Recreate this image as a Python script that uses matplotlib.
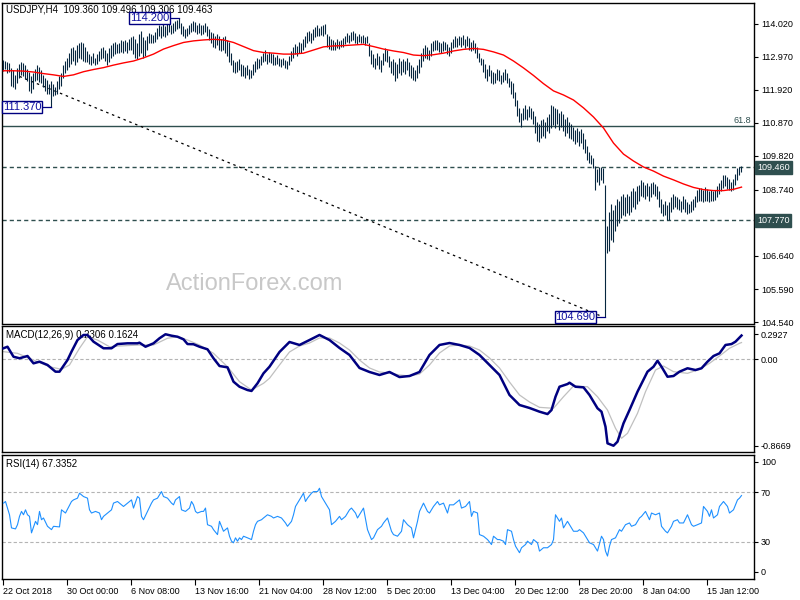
import matplotlib
matplotlib.use("Agg")
import matplotlib.pyplot as plt
import matplotlib.transforms as mtransforms

plt.rcParams["font.family"] = ["Liberation Sans", "DejaVu Sans"]

# ---------------- data ----------------
chart_title = "USDJPY,H4  109.360 109.496 109.306 109.463"
macd_title = "MACD(12,26,9) 0.2306 0.1624"
rsi_title = "RSI(14) 67.3352"
watermark = "ActionForex.com"

highs = [
    112.88, 112.85, 112.80, 112.78, 112.62, 112.55, 112.40, 112.62, 112.75, 112.82,
    112.78, 112.70, 112.58, 112.50, 112.35, 112.45, 112.60, 112.70, 112.65, 112.55,
    112.40, 112.30, 112.25, 112.10, 112.22, 112.10, 112.00, 112.20, 112.35, 112.45,
    112.70, 112.85, 112.95, 113.10, 113.25, 113.30, 113.20, 113.35, 113.40, 113.45,
    113.42, 113.30, 113.15, 113.05, 113.00, 113.08, 112.95, 113.05, 113.15, 113.25,
    113.30, 113.20, 113.10, 113.25, 113.35, 113.40, 113.45, 113.38, 113.42, 113.50,
    113.48, 113.52, 113.45, 113.55, 113.60, 113.65, 113.55, 113.40, 113.70, 113.78,
    113.60, 113.50, 113.65, 113.72, 113.70, 113.68, 113.75, 113.90, 113.98, 113.95,
    114.05, 113.95, 114.02, 114.08, 113.98, 114.05, 114.10, 114.15, 114.20, 114.05,
    113.95, 113.85, 113.90, 113.98, 114.05, 114.12, 114.08, 114.00, 114.05, 113.98,
    114.00, 114.05, 113.95, 113.85, 113.75, 113.72, 113.65, 113.70, 113.62, 113.55,
    113.60, 113.65, 113.50, 113.45, 113.10, 112.88, 112.80, 112.85, 112.90, 112.75,
    112.70, 112.65, 112.72, 112.60, 112.55, 112.75, 112.85, 112.95, 112.90, 113.00,
    113.10, 113.18, 113.05, 113.12, 113.08, 113.05, 112.98, 113.02, 112.95, 112.90,
    112.95, 112.88, 112.85, 113.00, 113.15, 113.30, 113.38, 113.32, 113.45, 113.40,
    113.55, 113.62, 113.75, 113.80, 113.72, 113.85, 113.92, 113.98, 113.90, 113.95,
    113.98, 114.03, 113.70, 113.62, 113.55, 113.50, 113.45, 113.55, 113.48, 113.52,
    113.58, 113.65, 113.72, 113.68, 113.75, 113.80, 113.72, 113.65, 113.70, 113.62,
    113.68, 113.60, 113.65, 113.40, 113.20, 113.05, 112.95, 113.10, 113.00, 112.88,
    113.10, 113.25, 113.20, 113.00, 112.85, 112.90, 112.80, 112.75, 112.95, 112.85,
    112.92, 112.85, 112.95, 112.80, 112.70, 112.65, 112.55, 112.70, 112.90, 113.10,
    113.25, 113.35, 113.30, 113.20, 113.40, 113.48, 113.52, 113.50, 113.45, 113.40,
    113.48, 113.45, 113.38, 113.30, 113.45, 113.55, 113.62, 113.58, 113.65, 113.60,
    113.68, 113.55, 113.62, 113.58, 113.45, 113.50, 113.40, 113.30, 113.10, 112.95,
    112.90, 112.75, 112.60, 112.70, 112.55, 112.50, 112.45, 112.60, 112.55, 112.40,
    112.50, 112.60, 112.45, 112.30, 112.20, 112.15, 111.85, 111.60, 111.35, 111.20,
    111.35, 111.45, 111.30, 111.42, 111.35, 111.25, 111.10, 110.90, 110.85, 110.95,
    111.00, 110.90, 111.05, 111.15, 111.45, 111.42, 111.35, 111.30, 111.20, 111.25,
    111.15, 111.00, 111.05, 110.90, 110.85, 110.75, 110.65, 110.70, 110.60, 110.68,
    110.55, 110.35, 110.15, 109.95, 109.85, 109.75, 109.50, 109.40, 109.47, 109.47,
    109.45, 108.90, 107.60, 108.05, 108.30, 108.10, 108.25, 108.45, 108.40, 108.55,
    108.60, 108.50, 108.62, 108.55, 108.70, 108.80, 108.72, 108.85, 108.90, 109.05,
    109.00, 108.90, 108.95, 108.85, 108.95, 109.00, 108.92, 108.85, 108.70, 108.45,
    108.30, 108.40, 108.25, 108.35, 108.50, 108.60, 108.55, 108.50, 108.45, 108.40,
    108.55, 108.45, 108.35, 108.30, 108.38, 108.45, 108.55, 108.75, 108.80, 108.80,
    108.75, 108.82, 108.78, 108.70, 108.75, 108.70, 108.75, 108.85, 108.95, 109.05,
    109.20, 109.22, 109.15, 109.10, 109.00, 109.10, 109.25, 109.45, 109.47, 109.496,
]

lows = [
    112.52, 112.58, 112.45, 112.50, 112.05, 112.00, 111.95, 112.15, 112.30, 112.40,
    112.35, 112.28, 112.20, 111.90, 111.82, 111.95, 112.20, 112.25, 112.18, 112.15,
    112.00, 111.90, 111.80, 111.78, 111.37, 111.72, 111.75, 111.80, 111.95, 112.05,
    112.30, 112.45, 112.55, 112.65, 112.75, 112.85, 112.70, 112.80, 112.95, 112.90,
    112.85, 112.80, 112.82, 112.75, 112.70, 112.78, 112.72, 112.75, 112.85, 112.90,
    112.95, 112.85, 112.72, 112.80, 112.95, 113.00, 113.05, 113.08, 113.10, 113.12,
    113.10, 113.15, 113.08, 113.18, 113.20, 113.05, 112.95, 112.92, 113.00, 113.10,
    112.95, 113.00, 113.20, 113.40, 113.42, 113.40, 113.45, 113.55, 113.62, 113.58,
    113.65, 113.60, 113.68, 113.75, 113.70, 113.72, 113.80, 113.85, 113.88, 113.70,
    113.62, 113.58, 113.65, 113.70, 113.75, 113.80, 113.75, 113.70, 113.72, 113.68,
    113.70, 113.75, 113.62, 113.50, 113.40, 113.30, 113.25, 113.35, 113.20, 113.15,
    113.18, 113.10, 113.00, 112.80, 112.70, 112.50, 112.45, 112.48, 112.55, 112.35,
    112.35, 112.30, 112.40, 112.28, 112.30, 112.38, 112.50, 112.60, 112.62, 112.70,
    112.80, 112.85, 112.75, 112.82, 112.78, 112.72, 112.70, 112.75, 112.68, 112.65,
    112.70, 112.62, 112.58, 112.70, 112.85, 112.95, 113.05, 113.00, 113.10, 113.08,
    113.20, 113.28, 113.40, 113.48, 113.42, 113.50, 113.60, 113.65, 113.62, 113.68,
    113.65, 113.70, 113.30, 113.22, 113.18, 113.18, 113.20, 113.25, 113.22, 113.28,
    113.30, 113.38, 113.45, 113.40, 113.48, 113.50, 113.42, 113.38, 113.45, 113.40,
    113.42, 113.35, 113.40, 113.00, 112.75, 112.65, 112.60, 112.70, 112.58, 112.50,
    112.70, 112.85, 112.80, 112.65, 112.45, 112.40, 112.22, 112.30, 112.45, 112.38,
    112.50, 112.42, 112.55, 112.35, 112.30, 112.25, 112.20, 112.30, 112.45, 112.65,
    112.85, 112.95, 112.90, 112.88, 113.00, 113.15, 113.18, 113.20, 113.12, 113.10,
    113.15, 113.20, 113.05, 113.00, 113.10, 113.25, 113.30, 113.28, 113.35, 113.30,
    113.35, 113.25, 113.32, 113.20, 113.15, 113.20, 113.10, 112.95, 112.80, 112.70,
    112.50, 112.30, 112.20, 112.35, 112.15, 112.10, 112.15, 112.25, 112.20, 112.12,
    112.18, 112.25, 112.15, 112.00, 111.80, 111.65, 111.40, 111.10, 110.90, 110.74,
    110.95, 111.00, 110.95, 111.05, 111.00, 110.85, 110.55, 110.30, 110.25, 110.40,
    110.45, 110.40, 110.60, 110.55, 110.70, 110.80, 110.70, 110.85, 110.65, 110.75,
    110.60, 110.45, 110.55, 110.40, 110.35, 110.30, 110.20, 110.25, 110.15, 110.22,
    110.05, 109.90, 109.70, 109.60, 109.55, 109.45, 108.74, 109.00, 108.90, 109.05,
    108.95, 104.69, 106.72, 106.80, 107.15, 107.10, 107.45, 107.60, 107.70, 107.85,
    107.95, 107.90, 108.00, 107.95, 108.05, 108.20, 108.15, 108.30, 108.40, 108.55,
    108.50, 108.45, 108.55, 108.40, 108.50, 108.60, 108.55, 108.45, 108.20, 108.00,
    107.90, 107.95, 107.80, 107.77, 108.05, 108.15, 108.20, 108.12, 108.10, 108.05,
    108.15, 108.05, 107.98, 108.00, 108.05, 108.10, 108.20, 108.35, 108.40, 108.38,
    108.35, 108.40, 108.38, 108.35, 108.40, 108.38, 108.42, 108.50, 108.60, 108.72,
    108.80, 108.85, 108.78, 108.75, 108.70, 108.75, 108.90, 109.05, 109.20, 109.306,
]

ma_idx = list(range(0, 370, 5)) + [369]
ma_val = [
    112.53, 112.53, 112.52, 112.49, 112.44, 112.40, 112.35, 112.40, 112.50, 112.57,
    112.63, 112.71, 112.78, 112.84, 112.94, 113.06, 113.22, 113.33, 113.43, 113.48,
    113.51, 113.53, 113.51, 113.43, 113.30, 113.17, 113.11, 113.09, 113.06, 113.06,
    113.09, 113.19, 113.29, 113.32, 113.33, 113.35, 113.37, 113.30, 113.22, 113.16,
    113.11, 113.03, 113.01, 113.04, 113.09, 113.16, 113.21, 113.24, 113.21, 113.13,
    113.03, 112.84, 112.62, 112.38, 112.12, 111.89, 111.76, 111.60, 111.35, 111.06,
    110.71, 110.23, 109.88, 109.66, 109.47, 109.34, 109.18, 109.06, 108.93, 108.82,
    108.75, 108.72, 108.72, 108.76, 108.83,
]

macd_idx = [
    0, 2, 5, 8, 12, 15, 18, 22, 26, 28, 32, 34, 37, 40, 42, 45, 50, 54, 57, 62,
    67, 68, 71, 75, 78, 81, 84, 87, 90, 92, 95, 98, 102, 105, 108, 112, 115, 118, 122, 124,
    127, 130, 133, 138, 143, 148, 153, 158, 163, 168, 173, 178, 183, 188, 193, 198, 203, 208, 213, 218,
    223, 228, 233, 238, 243, 248, 253, 258, 263, 268, 272, 274, 276, 278, 282, 283, 286, 290, 293, 297,
    299, 301, 302, 305, 307, 310, 313, 317, 322, 325, 327, 329, 332, 335, 338, 342, 346, 349, 352, 355,
    358, 361, 364, 366, 369,
]
macd_val = [
    0.107, 0.122, 0.025, 0.010, 0.032, -0.039, -0.023, -0.055, -0.120, -0.120,
    -0.007, 0.074, 0.187, 0.236, 0.236, 0.171, 0.107, 0.107, 0.148, 0.155,
    0.155, 0.161, 0.122, 0.155, 0.204, 0.243, 0.229, 0.219, 0.194, 0.148,
    0.146, 0.122, 0.097, 0.010, -0.065, -0.078, -0.217, -0.266, -0.298, -0.307,
    -0.233, -0.136, -0.072, 0.071, 0.168, 0.139, 0.187, 0.236, 0.187, 0.110,
    0.042, -0.084, -0.123, -0.152, -0.123, -0.172, -0.162, -0.123, 0.042, 0.139,
    0.158, 0.139, 0.110, 0.042, -0.055, -0.152, -0.346, -0.443, -0.472, -0.508,
    -0.531, -0.492, -0.363, -0.266, -0.240, -0.227, -0.266, -0.272, -0.346, -0.475,
    -0.508, -0.654, -0.815, -0.838, -0.799, -0.621, -0.492, -0.314, -0.120, -0.072,
    -0.014, -0.072, -0.169, -0.162, -0.120, -0.087, -0.104, -0.087, -0.023, 0.032,
    0.058, 0.139, 0.148, 0.171, 0.2306,
]

signal_idx = [
    0, 7, 15, 23, 29, 33, 38, 42, 47, 53, 58, 68, 75, 82, 87, 92, 98, 105, 112, 118,
    124, 130, 133, 138, 143, 148, 153, 158, 163, 168, 173, 178, 183, 188, 193, 198, 203, 208, 213, 218,
    223, 228, 233, 238, 243, 248, 253, 258, 263, 268, 275, 280, 285, 292, 297, 302, 306, 309, 312, 317,
    321, 326, 330, 335, 342, 348, 353, 358, 363, 368, 369,
]
signal_val = [
    0.074, 0.058, -0.007, -0.072, -0.097, -0.055, 0.107, 0.219, 0.187, 0.122,
    0.129, 0.139, 0.139, 0.204, 0.219, 0.187, 0.139, 0.058, -0.072, -0.217,
    -0.298, -0.233, -0.184, -0.055, 0.071, 0.129, 0.158, 0.207, 0.207, 0.158,
    0.090, -0.007, -0.084, -0.123, -0.133, -0.152, -0.162, -0.143, -0.055, 0.061,
    0.129, 0.139, 0.129, 0.090, 0.013, -0.084, -0.220, -0.346, -0.414, -0.466,
    -0.475, -0.363, -0.259, -0.266, -0.363, -0.492, -0.669, -0.766, -0.718, -0.524,
    -0.314, -0.104, -0.065, -0.120, -0.136, -0.097, -0.039, 0.032, 0.107, 0.155,
    0.1624,
]

rsi_idx = [
    0, 1, 3, 4, 6, 7, 8, 9, 10, 11, 12, 13, 14, 16, 17, 18, 19, 20, 22, 24,
    25, 28, 29, 31, 34, 35, 37, 38, 40, 42, 43, 44, 46, 48, 49, 50, 52, 54, 55, 57,
    59, 60, 62, 64, 65, 67, 68, 69, 70, 72, 74, 75, 77, 79, 80, 82, 84, 85, 86, 88,
    89, 91, 93, 94, 95, 96, 97, 99, 100, 101, 102, 104, 105, 107, 108, 110, 112, 113, 114, 115,
    116, 117, 118, 119, 120, 122, 124, 125, 126, 127, 129, 130, 132, 134, 135, 137, 139, 141, 142, 144,
    145, 146, 147, 149, 150, 151, 152, 154, 155, 157, 158, 159, 161, 163, 164, 166, 168, 169, 171, 173,
    174, 176, 177, 179, 180, 182, 184, 185, 187, 189, 190, 192, 194, 195, 197, 199, 200, 202, 204, 205,
    207, 208, 210, 212, 213, 215, 217, 218, 220, 222, 223, 225, 228, 229, 231, 233, 234, 235, 237, 238,
    240, 242, 244, 245, 247, 248, 250, 251, 252, 254, 255, 256, 258, 259, 261, 262, 264, 265, 267, 268,
    270, 272, 274, 275, 276, 278, 279, 280, 282, 284, 285, 287, 288, 290, 292, 293, 295, 297, 299, 300,
    301, 302, 303, 304, 306, 308, 309, 311, 313, 314, 316, 318, 319, 321, 323, 324, 326, 328, 329, 331,
    332, 334, 335, 337, 338, 340, 342, 344, 345, 347, 349, 350, 352, 353, 354, 355, 357, 358, 360, 362,
    363, 365, 367, 368, 369,
]
rsi_val = [
    61.2, 62.5, 51.8, 41.2, 40.4, 43.8, 50.5, 54.5, 51.8, 55.8, 51.8, 50.5, 37.2, 46.5, 43.8, 54.5, 47.8, 49.2, 42.5, 39.8,
    42.5, 42.0, 55.8, 53.2, 62.5, 63.8, 65.2, 69.2, 66.5, 65.2, 55.8, 53.2, 54.5, 53.2, 47.8, 50.5, 53.2, 55.8, 61.2, 62.5,
    59.8, 58.5, 61.2, 63.8, 57.2, 66.5, 65.2, 50.5, 47.8, 54.5, 61.2, 63.8, 65.2, 70.5, 66.5, 65.2, 61.2, 59.8, 63.8, 66.5,
    55.8, 54.5, 57.2, 62.5, 59.8, 54.5, 53.2, 54.5, 54.5, 57.2, 43.8, 42.5, 39.8, 35.8, 46.5, 38.5, 41.2, 34.5, 30.5, 29.2,
    33.2, 30.5, 33.2, 31.8, 34.5, 33.2, 31.8, 38.5, 43.8, 46.5, 47.8, 49.2, 51.8, 50.5, 49.2, 50.5, 49.2, 45.2, 42.5, 46.5,
    51.8, 58.5, 61.2, 66.5, 69.2, 62.5, 65.2, 69.2, 70.5, 70.5, 73.2, 66.5, 61.2, 55.8, 43.8, 46.5, 50.5, 47.8, 50.5, 55.8,
    57.2, 53.2, 49.2, 54.5, 57.2, 39.8, 31.8, 33.2, 39.8, 42.5, 45.2, 49.2, 38.5, 35.8, 34.5, 38.5, 47.8, 43.8, 41.2, 33.2,
    46.5, 54.5, 61.2, 54.5, 53.2, 58.5, 62.5, 59.8, 61.2, 53.2, 59.8, 59.8, 63.8, 57.2, 58.5, 62.5, 50.5, 54.5, 53.2, 35.8,
    34.5, 31.8, 27.8, 34.5, 31.8, 31.8, 30.5, 27.8, 39.8, 38.5, 31.8, 26.5, 21.2, 25.2, 27.8, 30.5, 27.8, 31.8, 29.2, 22.5,
    25.2, 25.2, 27.8, 31.8, 51.8, 46.5, 49.2, 41.2, 46.5, 41.2, 38.5, 38.5, 39.8, 37.2, 31.8, 29.2, 27.8, 22.5, 34.5, 31.8,
    22.5, 18.5, 26.5, 31.8, 33.2, 39.8, 38.5, 43.8, 45.2, 42.5, 43.8, 49.2, 50.5, 54.5, 47.8, 53.2, 51.8, 53.2, 42.5, 38.5,
    37.2, 42.5, 46.5, 47.8, 45.2, 45.2, 51.8, 43.8, 42.5, 43.8, 45.2, 58.5, 54.5, 50.5, 55.8, 49.2, 51.8, 58.5, 62.5, 58.5,
    53.2, 55.8, 63.8, 65.2, 67.3,
]

date_idx = [0, 32, 64, 96, 128, 160, 192, 224, 256, 288, 320, 352]
date_labels = ["22 Oct 2018", "30 Oct 00:00", "6 Nov 08:00", "13 Nov 16:00",
               "21 Nov 04:00", "28 Nov 12:00", "5 Dec 20:00", "13 Dec 04:00",
               "20 Dec 12:00", "28 Dec 20:00", "8 Jan 04:00", "15 Jan 12:00"]

price_tick_labels = ["114.020", "112.970", "111.920", "110.870", "109.820",
                     "108.740", "106.640", "105.590", "104.540"]
fib_level = 110.76
fib_text = "61.8"
level_lines = [109.46, 107.77]
level_texts = ["109.460", "107.770"]
trend_idx = [8, 298]
trend_val = [112.35, 104.75]

macd_tick_pos = [0.245, 0.0, -0.838]
macd_tick_labels = ["0.2927", "0.00", "-0.8669"]
rsi_tick_pos = [94.5, 70, 30, 5.7]
rsi_tick_labels = ["100", "70", "30", "0"]
rsi_levels = [70, 30]

# ---------------- style ----------------
bar_color = "#06263f"
level_color = "#2f4f4f"
lbl_color = "#1010a0"
W, H = 800, 600
FS = 6.5

fig = plt.figure(figsize=(8, 6), dpi=100)
fig.patch.set_facecolor("white")


def ax_at(top, bottom):
    return fig.add_axes([2 / W, 1 - bottom / H, 752 / W, (bottom - top) / H])


ax1 = ax_at(3, 323.5)
ax2 = ax_at(326, 452)
ax3 = ax_at(455, 579)

for ax in (ax1, ax2, ax3):
    ax.set_xlim(-0.75, 375.25)
    ax.yaxis.tick_right()
    ax.tick_params(axis="y", direction="out", length=3, width=0.8,
                   labelsize=FS, pad=2, colors="black")
    for s in ax.spines.values():
        s.set_linewidth(1.0)
        s.set_color("black")
ax1.set_xticks([])
ax2.set_xticks([])

# ---- price panel ----
n = len(highs)
idx = list(range(n))
ax1.set_ylim(104.493, 114.685)
ax1.vlines(idx, lows, highs, colors=bar_color, linewidth=0.8,
           antialiased=True, zorder=3)
ax1.plot(ma_idx, ma_val, color="red", lw=1.0, zorder=4)
ax1.axhline(fib_level, color=level_color, lw=1.0, zorder=2)
for lv in level_lines:
    ax1.axhline(lv, color=level_color, lw=1.0, ls=(0, (3, 2.2)), zorder=2)
ax1.plot(trend_idx, trend_val, color="black", lw=0.9, ls=(0, (2, 3)), zorder=2)
ax1.set_yticks([float(t) for t in price_tick_labels])
ax1.set_yticklabels(price_tick_labels)

blend1 = mtransforms.blended_transform_factory(ax1.transAxes, ax1.transData)
ax1.text(1 - 3 / 752, fib_level + 0.03, fib_text, transform=blend1, ha="right",
         va="bottom", fontsize=FS, color=level_color)
for lv, t in zip(level_lines, level_texts):
    ax1.text(1 + 3 / 752, lv, t, transform=blend1, ha="left", va="center",
             fontsize=FS, color="white", clip_on=False, zorder=10,
             bbox=dict(boxstyle="square,pad=0.22", fc=level_color, ec=level_color))

# labelled swing points
hi_i = highs.index(max(highs))
lo_i = lows.index(min(lows))
early = lows[:60]
e_i = early.index(min(early))
for bi, val in [(hi_i, highs[hi_i]), (e_i, lows[e_i]), (lo_i, lows[lo_i])]:
    ax1.plot([bi - 5, bi], [val, val], color="navy", lw=0.9, zorder=5)
    ax1.text(bi - 5, val, f"{val:.3f}", ha="right", va="center", fontsize=8,
             color=lbl_color, zorder=6,
             bbox=dict(boxstyle="square,pad=0.08", fc="white", ec="navy", lw=1.0))

ax1.text((255 - 2) / 752, 1 - (284 - 3) / 320.5, watermark, transform=ax1.transAxes,
         ha="center", va="center", fontsize=17, color="#c8c8c8", zorder=1)
ax1.text(4 / 752, 1 - 7 / 320.5, chart_title, transform=ax1.transAxes, ha="left",
         va="center", fontsize=7, color="black", zorder=1)

# ---- MACD panel ----
ax2.set_ylim(-0.899, 0.323)
ax2.axhline(0, color="#b4b4b4", lw=0.8, ls=(0, (3, 2)), zorder=1)
ax2.plot(signal_idx, signal_val, color="#c0c0c0", lw=0.9, zorder=2)
ax2.plot(macd_idx, macd_val, color="#000080", lw=1.8, zorder=3)
ax2.set_yticks(macd_tick_pos)
ax2.set_yticklabels(macd_tick_labels)
ax2.text(4 / 752, 1 - 9 / 126, macd_title, transform=ax2.transAxes, ha="left",
         va="center", fontsize=7, color="black", zorder=1)

# ---- RSI panel ----
ax3.set_ylim(0, 100)
for lv in rsi_levels:
    ax3.axhline(lv, color="#b4b4b4", lw=0.8, ls=(0, (3, 2)), zorder=1)
ax3.plot(rsi_idx, rsi_val, color="#1e90ff", lw=0.8, zorder=3)
ax3.set_yticks(rsi_tick_pos)
ax3.set_yticklabels(rsi_tick_labels)
ax3.text(4 / 752, 1 - 9 / 124, rsi_title, transform=ax3.transAxes, ha="left",
         va="center", fontsize=7, color="black", zorder=1)
ax3.set_xticks(date_idx)
ax3.set_xticklabels(date_labels, fontsize=FS, ha="left")
ax3.tick_params(axis="x", direction="out", length=4, width=0.8, pad=2)

fig.savefig("out.png", dpi=100, facecolor="white")
